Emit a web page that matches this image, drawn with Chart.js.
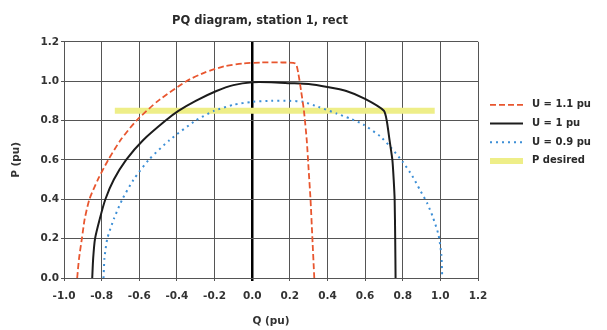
<!DOCTYPE html>
<html lang="en">

<head>
  <meta charset="UTF-8">
  <title>PQ diagram</title>
  <script src="https://cdn.jsdelivr.net/npm/chart.js@4.4.0/dist/chart.umd.min.js"></script>
  <style>
    html, body { margin: 0; padding: 0; background: #fff; }
    #wrap { width: 607px; height: 330px; }
  </style>
</head>

<body>
  <div id="wrap">
    <canvas id="pq" width="607" height="330"></canvas>
  </div>
  <script>
    // values (Q, P in pu)
    var labels = ['U = 1.1 pu', 'U = 1 pu', 'U = 0.9 pu', 'P desired'];

    var q11 = [-0.93, -0.92, -0.905, -0.89, -0.865, -0.82, -0.765, -0.70, -0.615, -0.50, -0.35, -0.25, -0.15, -0.05, 0.05, 0.15, 0.23, 0.245, 0.26, 0.275, 0.29, 0.30, 0.31, 0.32, 0.33];
    var p11 = [0, 0.1, 0.2, 0.3, 0.4, 0.5, 0.6, 0.7, 0.8, 0.9, 1.0, 1.045, 1.075, 1.09, 1.095, 1.095, 1.09, 1.04, 0.95, 0.85, 0.7, 0.55, 0.4, 0.2, 0];

    var q10 = [-0.85, -0.845, -0.835, -0.81, -0.78, -0.735, -0.67, -0.58, -0.46, -0.39, -0.30, -0.19, -0.10, 0.0, 0.1, 0.2, 0.3, 0.4, 0.5, 0.6, 0.7, 0.715, 0.73, 0.745, 0.752, 0.757, 0.76, 0.762];
    var p10 = [0, 0.1, 0.2, 0.3, 0.4, 0.5, 0.6, 0.7, 0.8, 0.85, 0.9, 0.95, 0.98, 0.995, 0.995, 0.99, 0.985, 0.97, 0.95, 0.91, 0.85, 0.8, 0.7, 0.6, 0.5, 0.4, 0.2, 0];

    var q09 = [-0.79, -0.785, -0.77, -0.735, -0.69, -0.63, -0.55, -0.44, -0.30, -0.20, -0.10, 0.0, 0.1, 0.2, 0.27, 0.35, 0.45, 0.52, 0.59, 0.68, 0.74, 0.80, 0.85, 0.89, 0.93, 0.96, 0.99, 1.005, 1.01];
    var p09 = [0, 0.1, 0.2, 0.3, 0.4, 0.5, 0.6, 0.7, 0.8, 0.85, 0.88, 0.895, 0.9, 0.9, 0.895, 0.87, 0.835, 0.81, 0.78, 0.72, 0.66, 0.59, 0.52, 0.45, 0.38, 0.31, 0.22, 0.12, 0];

    var qDes = [-0.73, 0.97];
    var pDes = [0.85, 0.85];

    function pts(q, p) {
      return q.map(function (v, i) { return { x: v, y: p[i] }; });
    }

    var FAMILY = '"DejaVu Sans", Verdana, sans-serif';

    // legend drawn by hand to the right of the plot
    var sideLegend = {
      id: 'sideLegend',
      afterDraw: function (chart) {
        var ctx = chart.ctx, area = chart.chartArea;
        var x0 = area.right + 12, y0 = area.top + 63, step = 18.7;
        chart.data.datasets.forEach(function (ds, i) {
          var y = y0 + i * step;
          ctx.save();
          ctx.strokeStyle = ds.borderColor;
          ctx.lineWidth = ds.borderWidth;
          ctx.setLineDash(ds.borderDash || []);
          ctx.beginPath();
          ctx.moveTo(x0, y);
          ctx.lineTo(x0 + 33, y);
          ctx.stroke();
          ctx.setLineDash([]);
          ctx.fillStyle = '#2a2a2a';
          ctx.font = 'bold 10px ' + FAMILY;
          ctx.textBaseline = 'middle';
          ctx.fillText(ds.label, x0 + 42, y);
          ctx.restore();
        });
      }
    };

    var tickFont = { family: FAMILY, size: 10.5, weight: 'bold' };

    var ctx = document.getElementById('pq');
    var chart = new Chart(ctx, {
      type: 'scatter',
      data: {
        datasets: [
          {
            label: labels[0],
            data: pts(q11, p11),
            showLine: true,
            tension: 0.2,
            borderColor: '#e8562f',
            borderWidth: 1.8,
            borderDash: [6, 3],
            pointRadius: 0
          },
          {
            label: labels[1],
            data: pts(q10, p10),
            showLine: true,
            tension: 0.2,
            borderColor: '#1c1c1c',
            borderWidth: 2,
            pointRadius: 0
          },
          {
            label: labels[2],
            data: pts(q09, p09),
            showLine: true,
            tension: 0.2,
            borderColor: '#3d8fd6',
            borderWidth: 2,
            borderDash: [2, 4],
            pointRadius: 0
          },
          {
            label: labels[3],
            data: pts(qDes, pDes),
            showLine: true,
            borderColor: '#eeee88',
            borderWidth: 6,
            pointRadius: 0
          }
        ]
      },
      options: {
        responsive: false,
        animation: false,
        layout: { padding: { top: 8, left: 6, right: 93, bottom: 0 } },
        plugins: {
          legend: { display: false },
          tooltip: { enabled: false },
          title: {
            display: true,
            text: 'PQ diagram, station 1, rect',
            color: '#2a2a2a',
            font: { family: FAMILY, size: 11.5, weight: 'bold' },
            padding: { top: 6, bottom: 14 }
          }
        },
        scales: {
          x: {
            type: 'linear',
            min: -1.0,
            max: 1.2,
            afterFit: function (s) { s.height = 52; },
            ticks: {
              stepSize: 0.2,
              padding: 9,
              color: '#333',
              font: tickFont,
              callback: function (v) { return v.toFixed(1); }
            },
            grid: {
              color: function (c) { return c.tick && Math.abs(c.tick.value) < 1e-9 ? '#000' : '#555'; },
              lineWidth: function (c) { return c.tick && Math.abs(c.tick.value) < 1e-9 ? 2.5 : 1; },
              tickLength: 3
            },
            border: { color: '#555' },
            title: {
              display: true,
              text: 'Q (pu)',
              color: '#333',
              font: tickFont,
              padding: { top: 4, bottom: 2 }
            }
          },
          y: {
            type: 'linear',
            min: 0,
            max: 1.2,
            afterFit: function (s) { s.width = 58; },
            ticks: {
              stepSize: 0.2,
              padding: 2,
              color: '#333',
              font: tickFont,
              callback: function (v) { return v.toFixed(1); }
            },
            grid: { color: '#555', tickLength: 3 },
            border: { color: '#555' },
            title: {
              display: true,
              text: 'P (pu)',
              color: '#333',
              font: tickFont,
              padding: 4
            }
          },
          // empty box on the right that keeps room for the legend
          side: {
            type: 'linear',
            position: 'right',
            min: 0,
            max: 1,
            afterFit: function (s) { s.width = 36; },
            grid: { display: false },
            ticks: { display: false },
            border: { display: false }
          }
        }
      },
      plugins: [sideLegend]
    });
  </script>

</body>

</html>
